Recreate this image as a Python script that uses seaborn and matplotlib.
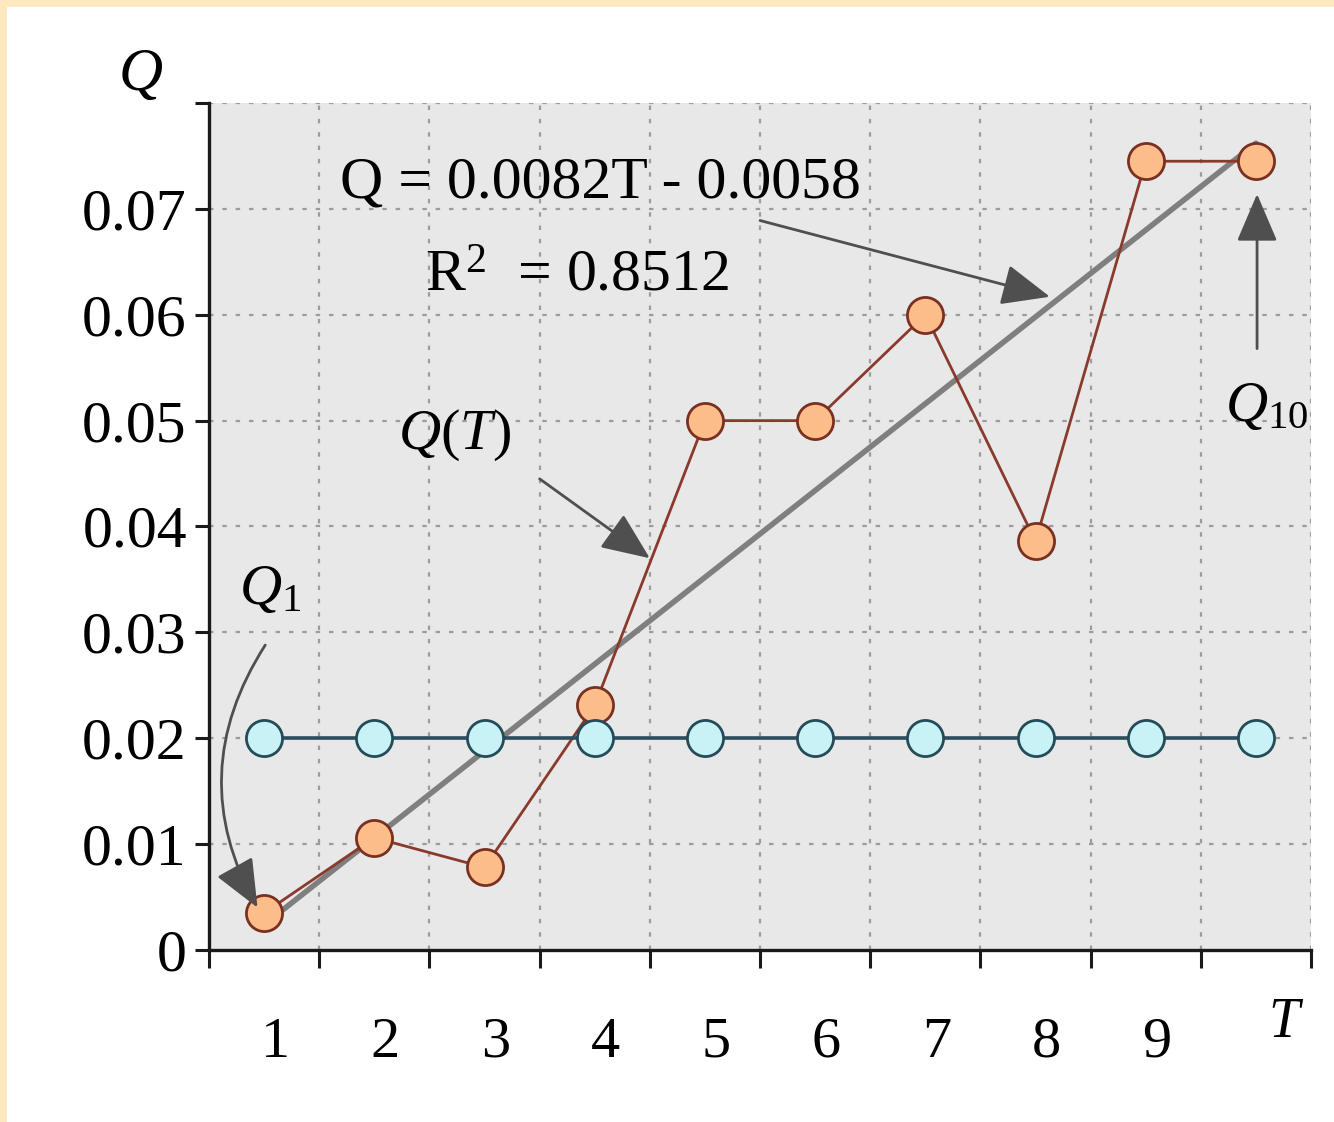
import numpy as np
import pandas as pd
import seaborn as sns
import matplotlib
matplotlib.use("Agg")
import matplotlib.pyplot as plt
from matplotlib.patches import Rectangle

# Period index and the two series
periods = [1, 2, 3, 4, 5, 6, 7, 8, 9, 10]
q_observed = [0.0035, 0.0106, 0.0078, 0.0231, 0.0500, 0.0500, 0.0600, 0.0386, 0.0745, 0.0745]
q_reference = [0.02, 0.02, 0.02, 0.02, 0.02, 0.02, 0.02, 0.02, 0.02, 0.02]

# Linear trend Q = a*T + b
trend_slope = 0.0082
trend_intercept = -0.0058
r_squared = 0.8512

y_ticks = [0.0, 0.01, 0.02, 0.03, 0.04, 0.05, 0.06, 0.07]
y_tick_labels = ["0", "0.01", "0.02", "0.03", "0.04", "0.05", "0.06", "0.07"]
x_tick_labels = ["1", "2", "3", "4", "5", "6", "7", "8", "9"]

sns.set_theme(style="white")
plt.rcParams["font.family"] = ["Liberation Serif", "DejaVu Serif"]
plt.rcParams["mathtext.fontset"] = "custom"
plt.rcParams["mathtext.rm"] = "Liberation Serif"
plt.rcParams["mathtext.it"] = "Liberation Serif:italic"
plt.rcParams["text.color"] = "black"
plt.rcParams["xtick.color"] = "black"
plt.rcParams["ytick.color"] = "black"
plt.rcParams["xtick.labelcolor"] = "black"
plt.rcParams["ytick.labelcolor"] = "black"

df = pd.DataFrame({
    "T": periods,
    "pos": [t - 0.5 for t in periods],
    "Q": q_observed,
    "Q0": q_reference,
})
df["trend"] = trend_slope * df["T"] + trend_intercept

fig = plt.figure(figsize=(13.34, 11.22), dpi=100, facecolor="white")
ax = fig.add_axes([0.1567, 0.1533, 0.8261, 0.7549])
ax.set_facecolor("#e8e8e8")

# Trend line
sns.lineplot(data=df, x="pos", y="trend", ax=ax, color="#7f7f7f", linewidth=4.0,
             zorder=3, legend=False)
# Observed series
sns.lineplot(data=df, x="pos", y="Q", ax=ax, color="#8a3a2c", linewidth=2.0,
             marker="o", markersize=26, markerfacecolor="#fdbd8b",
             markeredgecolor="#7a3020", markeredgewidth=2.0, zorder=4, legend=False)
# Reference level
sns.lineplot(data=df, x="pos", y="Q0", ax=ax, color="#2c4d5e", linewidth=2.6,
             marker="o", markersize=26, markerfacecolor="#c9f2f7",
             markeredgecolor="#234b58", markeredgewidth=2.0, zorder=5, legend=False)

ax.set_xlim(0, 10)
ax.set_ylim(0, 0.08)

# Grid
for gx in range(1, 11):
    ax.axvline(gx, color="#9c9c9c", linewidth=1.6, linestyle=(0, (2, 4)), zorder=1)
for gy in [0.01, 0.02, 0.03, 0.04, 0.05, 0.06, 0.07, 0.08]:
    ax.axhline(gy, color="#9c9c9c", linewidth=1.6, linestyle=(0, (2, 4)), zorder=1)

for side in ["top", "right"]:
    ax.spines[side].set_visible(False)
for side in ["left", "bottom"]:
    ax.spines[side].set_color("#1a1a1a")
    ax.spines[side].set_linewidth(2.4)

ax.set_yticks(y_ticks + [0.08])
ax.set_yticklabels(y_tick_labels + [""], fontsize=43)
ax.tick_params(axis="y", which="major", direction="out", length=10, width=2.2,
               color="#1a1a1a", pad=6, left=True)

ax.set_xticks(range(0, 11))
ax.set_xticklabels([""] * 11)
ax.tick_params(axis="x", which="major", direction="out", length=13, width=2.2,
               color="#1a1a1a", bottom=True)
ax.set_xticks([i - 0.4 for i in range(1, 10)], minor=True)
ax.set_xticklabels(x_tick_labels, minor=True, fontsize=42)
ax.tick_params(axis="x", which="minor", length=0, pad=48)
ax.set_xlabel("")
ax.set_ylabel("")

# Axis names
ax.text(-0.62, 0.0826, "$Q$", fontsize=44, ha="center", va="center")
ax.text(9.77, -0.0069, "$T$", fontsize=40, ha="center", va="center")

arrow_kw = dict(arrowstyle="-|>,head_length=0.75,head_width=0.32", color="#4f4f4f",
                lw=2.0, mutation_scale=40, shrinkA=0, shrinkB=0)

# Trend equation
ax.text(1.19, 0.0724, f"Q = {trend_slope:.4f}T - {abs(trend_intercept):.4f}",
        fontsize=43, ha="left", va="center", zorder=6)
ax.text(1.96, 0.0636, "R$^{2}$  = " + f"{r_squared:.4f}",
        fontsize=43, ha="left", va="center", zorder=6)
ax.annotate("", xy=(7.63, 0.0617), xytext=(5.0, 0.0689), arrowprops=arrow_kw, zorder=6)

# Q(T) label
ax.text(2.23, 0.0486, "$Q(T)$", fontsize=42, ha="center", va="center", zorder=6)
ax.annotate("", xy=(4.0, 0.0370), xytext=(3.0, 0.0445), arrowprops=arrow_kw, zorder=6)

# Q10 label
ax.text(9.6, 0.0513, "$Q_{10}$", fontsize=42, ha="center", va="center", zorder=6)
ax.annotate("", xy=(9.51, 0.0714), xytext=(9.51, 0.0568), arrowprops=arrow_kw, zorder=6)

# Q1 label
ax.text(0.55, 0.0340, "$Q_{1}$", fontsize=42, ha="center", va="center", zorder=6)
arrow_kw_curve = dict(arrow_kw, connectionstyle="arc3,rad=0.3")
ax.annotate("", xy=(0.44, 0.0040), xytext=(0.51, 0.0288), arrowprops=arrow_kw_curve, zorder=6)

# Frame strips along the left and top edges
fig.patches.append(Rectangle((0, 0), 7 / 1334, 1, transform=fig.transFigure,
                             facecolor="#fee8bf", edgecolor="none", zorder=0))
fig.patches.append(Rectangle((0, 1 - 7 / 1122), 1, 7 / 1122, transform=fig.transFigure,
                             facecolor="#fee8bf", edgecolor="none", zorder=0))

fig.savefig("out.png", dpi=100, facecolor="white")
